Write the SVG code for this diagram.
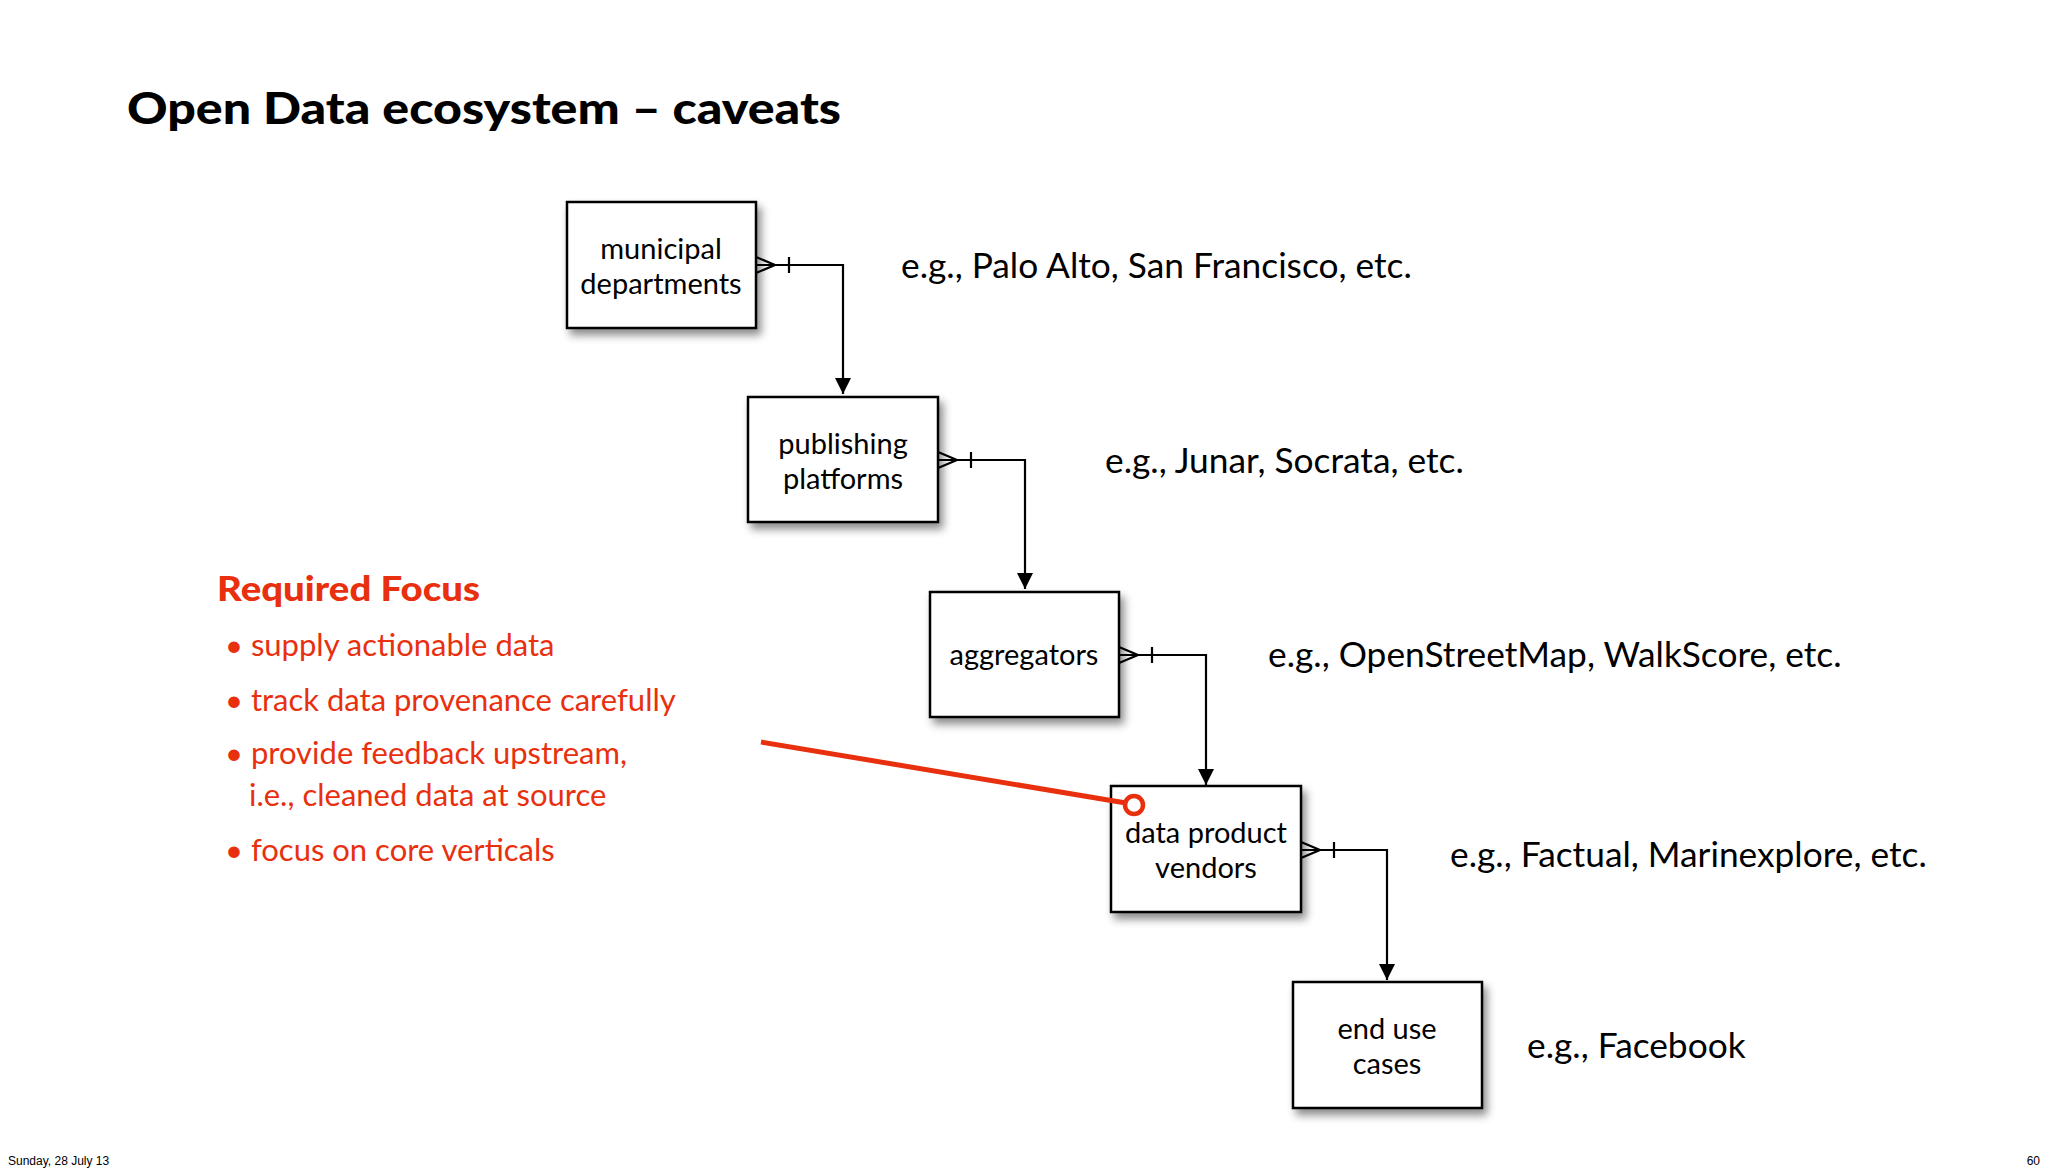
<svg xmlns="http://www.w3.org/2000/svg" width="2048" height="1173" viewBox="0 0 2048 1173">
<style>
.box{fill:#fff;stroke:#000;stroke-width:2.5}
.bt{font-family:Lato,"Open Sans",sans-serif;font-size:29px;text-anchor:middle;fill:#000}
.eg{font-family:Lato,"Open Sans",sans-serif;font-size:35.3px;fill:#000}
.con{fill:none;stroke:#000;stroke-width:2.2}
.red{font-family:Lato,"Open Sans",sans-serif;font-size:31px;fill:#e8300f}
</style>
<defs>
<filter id="sh" x="-20%" y="-20%" width="150%" height="150%"><feDropShadow dx="4" dy="6" stdDeviation="4" flood-color="#000" flood-opacity="0.45"/></filter>
<marker id="ar" markerWidth="16" markerHeight="16" refX="16" refY="8" orient="auto" markerUnits="userSpaceOnUse"><path d="M0,0 L16,8 L0,16 z" fill="#000"/></marker>
</defs>
<rect width="2048" height="1173" fill="#fff"/>
<text x="127" y="124" font-family="Lato,'Open Sans',sans-serif" font-weight="900" font-size="44" textLength="714" lengthAdjust="spacingAndGlyphs">Open Data ecosystem – caveats</text>
<g id="n1"><rect class="box" x="567" y="202" width="189" height="126" filter="url(#sh)"/><text class="bt" x="661" y="259">municipal</text><text class="bt" x="661" y="294">departments</text></g>
<g id="n2"><rect class="box" x="748" y="397" width="190" height="125" filter="url(#sh)"/><text class="bt" x="843" y="454">publishing</text><text class="bt" x="843" y="489">platforms</text></g>
<g id="n3"><rect class="box" x="930" y="592" width="189" height="125" filter="url(#sh)"/><text class="bt" x="1024" y="665">aggregators</text></g>
<g id="n4"><rect class="box" x="1111" y="786" width="190" height="126" filter="url(#sh)"/><text class="bt" x="1206" y="843">data product</text><text class="bt" x="1206" y="878">vendors</text></g>
<g id="n5"><rect class="box" x="1293" y="982" width="189" height="126" filter="url(#sh)"/><text class="bt" x="1387" y="1039">end use</text><text class="bt" x="1387" y="1074">cases</text></g>
<g id="connectors">
<path class="con" d="M756,265 H843 V394" marker-end="url(#ar)"/>
<path class="con" d="M756,257 L775,265 L756,273 M789,257 V273"/>
<path class="con" d="M938,460 H1025 V589" marker-end="url(#ar)"/>
<path class="con" d="M938,452 L957,460 L938,468 M971,452 V468"/>
<path class="con" d="M1119,655 H1206 V785" marker-end="url(#ar)"/>
<path class="con" d="M1119,647 L1138,655 L1119,663 M1152,647 V663"/>
<path class="con" d="M1301,850 H1387 V980" marker-end="url(#ar)"/>
<path class="con" d="M1301,842 L1320,850 L1301,858 M1334,842 V858"/>
<line x1="761" y1="742" x2="1126" y2="803" stroke="#e8300f" stroke-width="5"/>
<circle cx="1134" cy="805" r="9" fill="#fff" stroke="#e8300f" stroke-width="4.5"/>
</g>
<text class="eg" x="901" y="278">e.g., Palo Alto, San Francisco, etc.</text>
<text class="eg" x="1105" y="473">e.g., Junar, Socrata, etc.</text>
<text class="eg" x="1268" y="667">e.g., OpenStreetMap, WalkScore, etc.</text>
<text class="eg" x="1450" y="867">e.g., Factual, Marinexplore, etc.</text>
<text class="eg" x="1527" y="1058">e.g., Facebook</text>
<text x="217" y="601" font-family="Lato,'Open Sans',sans-serif" font-weight="900" font-size="34" fill="#e8300f" textLength="263" lengthAdjust="spacingAndGlyphs">Required Focus</text>
<text class="red" x="225" y="656">• supply actionable data</text>
<text class="red" x="225" y="711">• track data provenance carefully</text>
<text class="red" x="225" y="764">• provide feedback upstream,</text>
<text class="red" x="249" y="806">i.e., cleaned data at source</text>
<text class="red" x="225" y="861">• focus on core verticals</text>
<text x="8" y="1165" font-family="'Liberation Sans',sans-serif" font-size="12">Sunday, 28 July 13</text>
<text x="2040" y="1165" font-family="'Liberation Sans',sans-serif" font-size="12" text-anchor="end">60</text>
</svg>
